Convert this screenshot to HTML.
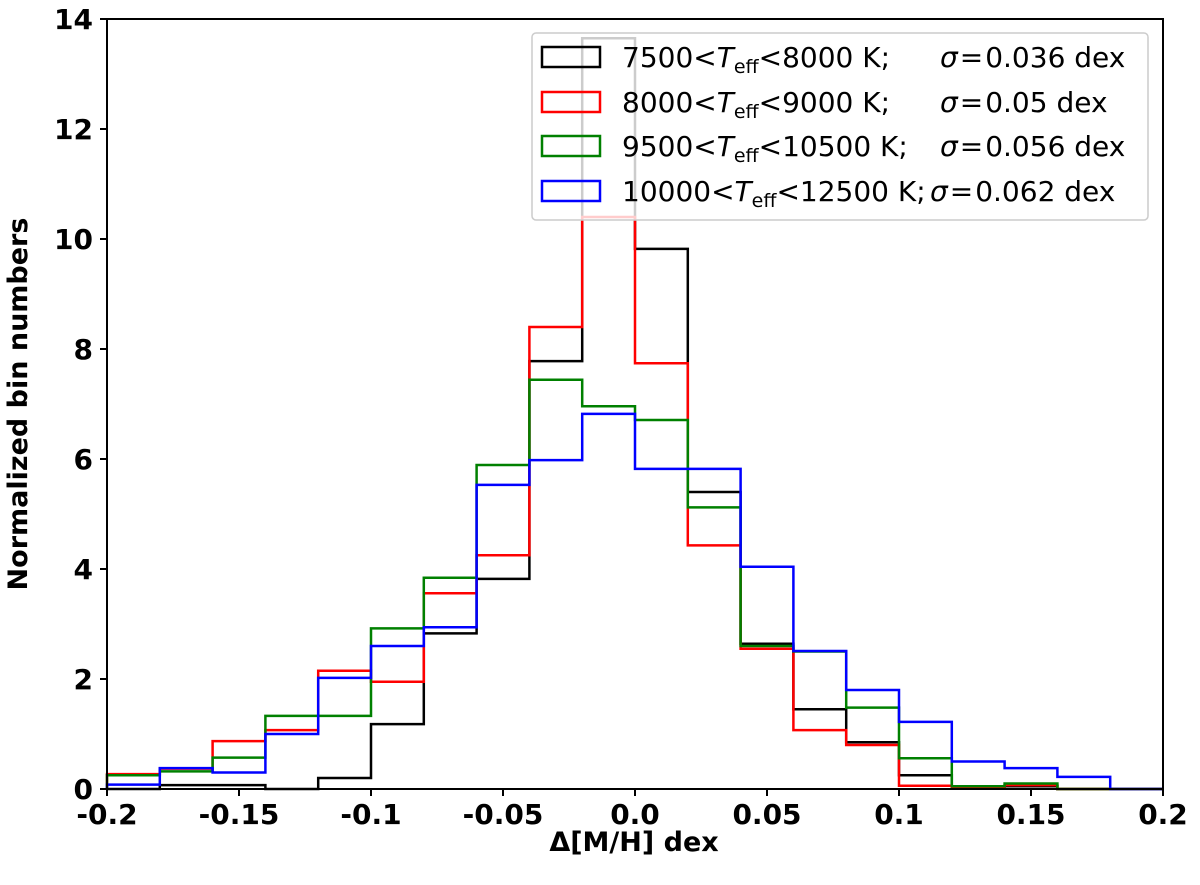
<!DOCTYPE html>
<html><head><meta charset="utf-8"><style>
body{margin:0;background:#fff}
svg text{font-family:"DejaVu Sans","Liberation Sans",sans-serif}
.tk{font-weight:bold;font-size:28px}
</style></head><body>
<svg id="chart" width="1200" height="880" viewBox="0 0 1200 880">
<g id="marks"></g>
<g id="axes"></g>
<g id="legend">
<rect x="532" y="33" width="616" height="187" rx="4" fill="#fff" fill-opacity="0.8" stroke="#ccc" stroke-width="1.5"/>
<g><rect x="542" y="47" width="58" height="20" fill="none" stroke="#000" stroke-width="2.5"/><text x="622" y="67" font-size="28">7500&lt;<tspan font-style="italic">T</tspan><tspan font-size="19" dy="6">eff</tspan><tspan dy="-6">&lt;8000 K;</tspan></text><text x="940" y="67" font-size="28"><tspan font-style="italic">σ</tspan><tspan dx="2">=</tspan><tspan dx="2">0.036 dex</tspan></text></g>
<g><rect x="542" y="92" width="58" height="20" fill="none" stroke="#f00" stroke-width="2.5"/><text x="622" y="112" font-size="28">8000&lt;<tspan font-style="italic">T</tspan><tspan font-size="19" dy="6">eff</tspan><tspan dy="-6">&lt;9000 K;</tspan></text><text x="940" y="112" font-size="28"><tspan font-style="italic">σ</tspan><tspan dx="2">=</tspan><tspan dx="2">0.05 dex</tspan></text></g>
<g><rect x="542" y="136" width="58" height="20" fill="none" stroke="#008000" stroke-width="2.5"/><text x="622" y="156" font-size="28">9500&lt;<tspan font-style="italic">T</tspan><tspan font-size="19" dy="6">eff</tspan><tspan dy="-6">&lt;10500 K;</tspan></text><text x="940" y="156" font-size="28"><tspan font-style="italic">σ</tspan><tspan dx="2">=</tspan><tspan dx="2">0.056 dex</tspan></text></g>
<g><rect x="542" y="181" width="58" height="20" fill="none" stroke="#00f" stroke-width="2.5"/><text x="622" y="201" font-size="28">10000&lt;<tspan font-style="italic">T</tspan><tspan font-size="19" dy="6">eff</tspan><tspan dy="-6">&lt;12500 K;</tspan></text><text x="930" y="201" font-size="28"><tspan font-style="italic">σ</tspan><tspan dx="2">=</tspan><tspan dx="2">0.062 dex</tspan></text></g>
</g>
<text x="634" y="851" text-anchor="middle" font-size="27" font-weight="bold">Δ[M/H] dex</text>
<text transform="translate(27,404) rotate(-90)" text-anchor="middle" font-size="27" font-weight="bold">Normalized bin numbers</text>
</svg>
<script>
const binEdgeStart = -0.2, binWidth = 0.02;
const blackVals = [0,0.07,0.07,0,0.2,1.18,2.83,3.82,7.78,13.65,9.82,5.4,2.64,1.45,0.85,0.25,0.04,0.05,0,0];
const redVals = [0.27,0.37,0.87,1.07,2.15,1.95,3.56,4.25,8.4,10.4,7.74,4.43,2.55,1.07,0.8,0.06,0.03,0.07,0,0];
const greenVals = [0.25,0.32,0.57,1.33,1.33,2.92,3.84,5.89,7.44,6.96,6.71,5.12,2.6,2.5,1.48,0.56,0.05,0.1,0,0];
const blueVals = [0.08,0.38,0.3,1.0,2.02,2.6,2.94,5.53,5.98,6.82,5.82,5.82,4.04,2.51,1.8,1.22,0.5,0.38,0.22,0];
const xTicks = [-0.2,-0.15,-0.1,-0.05,0.0,0.05,0.1,0.15,0.2];
const xTickLabels = ["-0.2","-0.15","-0.1","-0.05","0.0","0.05","0.1","0.15","0.2"];
const yTicks = [0,2,4,6,8,10,12,14];

const X0=107, X1=1163, Y0=789, Y1=19;
const sx = v => X0 + (v + 0.2) / 0.4 * (X1 - X0);
const sy = v => Y0 - v / 14 * (Y0 - Y1);
const NS = 'http://www.w3.org/2000/svg';
const marks = document.getElementById('marks'), axes = document.getElementById('axes');

function drawHist(vals, color, name){
  let d = `M${sx(binEdgeStart)},${sy(0)}`;
  vals.forEach((v,i)=>{
    const a = binEdgeStart + i*binWidth, b = a + binWidth;
    d += ` L${sx(a)},${sy(v)} L${sx(b)},${sy(v)}`;
  });
  d += ` L${sx(binEdgeStart+vals.length*binWidth)},${sy(0)}`;
  const p = document.createElementNS(NS,'path');
  p.setAttribute('d', d);
  p.setAttribute('fill','none');
  p.setAttribute('stroke', color);
  p.setAttribute('stroke-width','2.5');
  
  
  marks.appendChild(p);
}
drawHist(blackVals,'#000','hist-7500-8000');
drawHist(redVals,'#f00','hist-8000-9000');
drawHist(greenVals,'#008000','hist-9500-10500');
drawHist(blueVals,'#00f','hist-10000-12500');

const frame = document.createElementNS(NS,'rect');
frame.setAttribute('x',X0); frame.setAttribute('y',Y1);
frame.setAttribute('width',X1-X0); frame.setAttribute('height',Y0-Y1);
frame.setAttribute('fill','none'); frame.setAttribute('stroke','#000'); frame.setAttribute('stroke-width','2');


axes.appendChild(frame);

xTicks.forEach((t,i)=>{
  const l = document.createElementNS(NS,'line');
  l.setAttribute('x1',sx(t)); l.setAttribute('x2',sx(t)); l.setAttribute('y1',Y0); l.setAttribute('y2',Y0+7);
  l.setAttribute('stroke','#000'); l.setAttribute('stroke-width','2');
  
  
  axes.appendChild(l);
  const tx = document.createElementNS(NS,'text');
  tx.setAttribute('x',sx(t)); tx.setAttribute('y',Y0+35); tx.setAttribute('text-anchor','middle'); tx.setAttribute('class','tk');
  tx.textContent = xTickLabels[i];
  
  
  axes.appendChild(tx);
});
yTicks.forEach(t=>{
  const l = document.createElementNS(NS,'line');
  l.setAttribute('x1',X0-7); l.setAttribute('x2',X0); l.setAttribute('y1',sy(t)); l.setAttribute('y2',sy(t));
  l.setAttribute('stroke','#000'); l.setAttribute('stroke-width','2');
  
  
  axes.appendChild(l);
  const tx = document.createElementNS(NS,'text');
  tx.setAttribute('x',X0-14); tx.setAttribute('y',sy(t)+10); tx.setAttribute('text-anchor','end'); tx.setAttribute('class','tk');
  tx.textContent = String(t);
  
  
  axes.appendChild(tx);
});
</script>
</body></html>
